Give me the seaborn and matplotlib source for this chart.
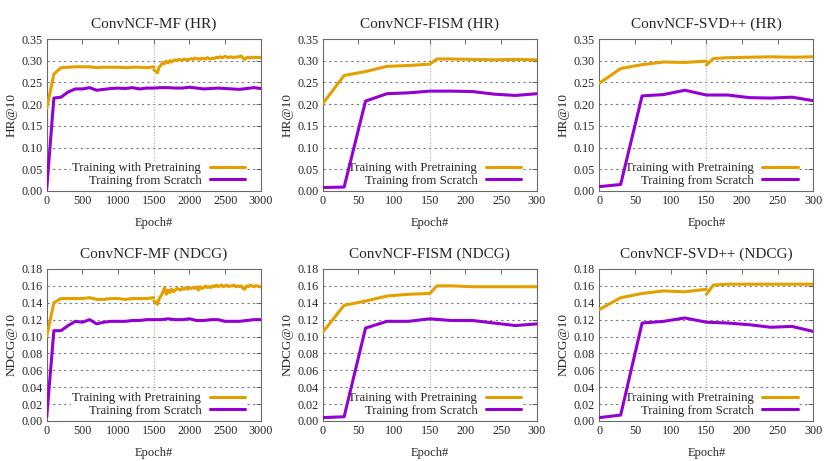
import matplotlib

matplotlib.use("Agg")

import matplotlib.pyplot as plt
import numpy as np
import pandas as pd
import seaborn as sns

sns.set_style("white")
plt.rcParams["font.family"] = ["Liberation Serif", "DejaVu Serif"]

ORANGE = "#E69F00"
PURPLE = "#9400D3"
PRE = "Training with Pretraining"
SCR = "Training from Scratch"

# ---- ConvNCF-MF (epochs 0..3000) ----
mf_ep_a = list(range(0, 1501, 100))
mf_ep_b = list(range(1500, 3001, 25))
mf_ep_s = list(range(0, 3001, 100))

mf_hr_pre_a = [0.190, 0.269, 0.284, 0.285, 0.286, 0.286, 0.286, 0.284, 0.285, 0.285,
               0.285, 0.284, 0.285, 0.285, 0.284, 0.286]
mf_hr_pre_b = [0.279, 0.276, 0.272, 0.285, 0.290, 0.296, 0.293, 0.299, 0.295, 0.300,
               0.297, 0.301, 0.302, 0.300, 0.303, 0.302, 0.301, 0.304, 0.302, 0.303,
               0.303, 0.305, 0.303, 0.306, 0.304, 0.305, 0.303, 0.306, 0.305, 0.304,
               0.307, 0.305, 0.304, 0.306, 0.305, 0.308, 0.307, 0.309, 0.307, 0.308,
               0.310, 0.308, 0.307, 0.309, 0.308, 0.307, 0.309, 0.308, 0.310, 0.311,
               0.306, 0.303, 0.307, 0.308, 0.306, 0.308, 0.307, 0.308, 0.307, 0.308,
               0.307]
mf_hr_scr = [0.005, 0.214, 0.216, 0.228, 0.235, 0.235, 0.238, 0.232, 0.234, 0.236,
             0.237, 0.236, 0.238, 0.235, 0.237, 0.237, 0.238, 0.238, 0.237, 0.237,
             0.239, 0.237, 0.235, 0.236, 0.237, 0.236, 0.235, 0.234, 0.236, 0.238,
             0.236]

mf_nd_pre_a = [0.100, 0.140, 0.145, 0.145, 0.145, 0.145, 0.146, 0.144, 0.144, 0.145,
               0.145, 0.144, 0.145, 0.145, 0.145, 0.146]
mf_nd_pre_b = [0.142, 0.141, 0.138, 0.145, 0.148, 0.152, 0.158, 0.150, 0.155, 0.152,
               0.156, 0.153, 0.155, 0.157, 0.156, 0.155, 0.157, 0.156, 0.158, 0.156,
               0.158, 0.157, 0.158, 0.157, 0.159, 0.155, 0.159, 0.157, 0.158, 0.160,
               0.158, 0.159, 0.158, 0.160, 0.159, 0.161, 0.159, 0.160, 0.161, 0.159,
               0.160, 0.161, 0.159, 0.160, 0.160, 0.161, 0.159, 0.160, 0.159, 0.160,
               0.157, 0.156, 0.160, 0.159, 0.161, 0.160, 0.159, 0.160, 0.160, 0.159,
               0.159]
mf_nd_scr = [0.005, 0.107, 0.107, 0.113, 0.118, 0.117, 0.120, 0.115, 0.117, 0.118,
             0.118, 0.118, 0.119, 0.119, 0.120, 0.120, 0.120, 0.121, 0.120, 0.120,
             0.121, 0.119, 0.119, 0.120, 0.120, 0.118, 0.118, 0.118, 0.119, 0.120,
             0.120]

# ---- ConvNCF-FISM (epochs 0..300) ----
fism_ep = [0, 30, 60, 90, 120, 150, 160, 180, 210, 240, 270, 300]
fism_ep_s = [0, 30, 60, 90, 120, 150, 180, 210, 240, 270, 300]
fism_hr_pre = [0.201, 0.266, 0.275, 0.287, 0.289, 0.292, 0.304, 0.304, 0.303, 0.302, 0.303, 0.302]
fism_hr_scr = [0.008, 0.009, 0.207, 0.224, 0.226, 0.230, 0.230, 0.229, 0.223, 0.220, 0.224]
fism_nd_pre = [0.105, 0.137, 0.142, 0.148, 0.150, 0.151, 0.160, 0.160, 0.159, 0.159, 0.159, 0.159]
fism_nd_scr = [0.004, 0.005, 0.110, 0.118, 0.118, 0.121, 0.119, 0.119, 0.116, 0.113, 0.115]

# ---- ConvNCF-SVD++ (epochs 0..300) ----
svd_ep_a = [0, 30, 60, 90, 120, 150]
svd_ep_b = [150, 160, 180, 210, 240, 270, 300]
svd_ep_s = [0, 30, 60, 90, 120, 150, 180, 210, 240, 270, 300]
svd_hr_pre_a = [0.248, 0.282, 0.291, 0.297, 0.296, 0.299]
svd_hr_pre_b = [0.290, 0.305, 0.307, 0.308, 0.309, 0.308, 0.309]
svd_hr_scr = [0.010, 0.015, 0.219, 0.222, 0.232, 0.221, 0.221, 0.215, 0.214, 0.216, 0.208]
svd_nd_pre_a = [0.132, 0.146, 0.151, 0.154, 0.153, 0.156]
svd_nd_pre_b = [0.150, 0.161, 0.162, 0.162, 0.162, 0.162, 0.162]
svd_nd_scr = [0.004, 0.007, 0.116, 0.118, 0.122, 0.117, 0.116, 0.114, 0.111, 0.112, 0.106]


def build_frame(pre_segments, scr_epochs, scr_values):
    frames = []
    for seg, (ep, val) in enumerate(pre_segments):
        frames.append(pd.DataFrame({"epoch": ep, "value": val, "series": PRE, "seg": seg}))
    frames.append(pd.DataFrame({"epoch": scr_epochs, "value": scr_values, "series": SCR, "seg": 9}))
    return pd.concat(frames, ignore_index=True)


panels = [
    ("ConvNCF-MF (HR)", "HR@10", build_frame([(mf_ep_a, mf_hr_pre_a), (mf_ep_b, mf_hr_pre_b)], mf_ep_s, mf_hr_scr), 3000, 1500, "hr"),
    ("ConvNCF-FISM (HR)", "HR@10", build_frame([(fism_ep, fism_hr_pre)], fism_ep_s, fism_hr_scr), 300, 150, "hr"),
    ("ConvNCF-SVD++ (HR)", "HR@10", build_frame([(svd_ep_a, svd_hr_pre_a), (svd_ep_b, svd_hr_pre_b)], svd_ep_s, svd_hr_scr), 300, 150, "hr"),
    ("ConvNCF-MF (NDCG)", "NDCG@10", build_frame([(mf_ep_a, mf_nd_pre_a), (mf_ep_b, mf_nd_pre_b)], mf_ep_s, mf_nd_scr), 3000, 1500, "nd"),
    ("ConvNCF-FISM (NDCG)", "NDCG@10", build_frame([(fism_ep, fism_nd_pre)], fism_ep_s, fism_nd_scr), 300, 150, "nd"),
    ("ConvNCF-SVD++ (NDCG)", "NDCG@10", build_frame([(svd_ep_a, svd_nd_pre_a), (svd_ep_b, svd_nd_pre_b)], svd_ep_s, svd_nd_scr), 300, 150, "nd"),
]

fig = plt.figure(figsize=(8.3, 4.61), dpi=100)
lefts = [0.0563, 0.3888, 0.722]
bottoms = [0.5857, 0.0868]

for i, (title, ylabel, df, xmax, xmark, kind) in enumerate(panels):
    ax = fig.add_axes([lefts[i % 3], bottoms[i // 3], 0.258, 0.3297])
    if kind == "hr":
        yticks = np.arange(0, 0.351, 0.05)
    else:
        yticks = np.arange(0, 0.181, 0.02)
    ax.set_ylim(0, yticks[-1])
    ax.set_xlim(0, xmax)
    ax.set_yticks(yticks)
    ax.set_xticks(np.linspace(0, xmax, 7))
    ax.yaxis.set_major_formatter(matplotlib.ticker.FormatStrFormatter("%.2f"))
    for y in yticks[1:-1]:
        ax.axhline(y, color="#7a7a7a", lw=0.8, ls=(0, (2, 3)), zorder=0)
    ax.axvline(xmark, color="#b0b0b0", lw=0.8, ls=(0, (1, 1.5)), zorder=0)

    sns.lineplot(
        data=df, x="epoch", y="value", hue="series", units="seg", estimator=None,
        palette={PRE: ORANGE, SCR: PURPLE}, hue_order=[PRE, SCR],
        linewidth=2.2, ax=ax, sort=False, zorder=3,
    )
    ax.set_title(title, fontsize=11, pad=8)
    ax.set_xlabel("Epoch#", fontsize=9, labelpad=7)
    ax.set_ylabel(ylabel, fontsize=9.5, labelpad=3)
    ax.tick_params(direction="in", top=True, right=True, length=3.5, width=0.6,
                   labelsize=8.7, color="#555555", pad=3)
    for sp in ax.spines.values():
        sp.set_color("#6a6a6a")
        sp.set_linewidth(0.8)
    leg = ax.legend(
        loc="lower right", bbox_to_anchor=(0.934, 0.02), borderaxespad=0, borderpad=0.1,
        markerfirst=False, frameon=True, framealpha=1, facecolor="white", edgecolor="none",
        fancybox=False, fontsize=9.2, handlelength=2.8, handletextpad=0.65, labelspacing=0.05,
    )
    leg.set_zorder(1)

fig.savefig("out.png", dpi=100)
